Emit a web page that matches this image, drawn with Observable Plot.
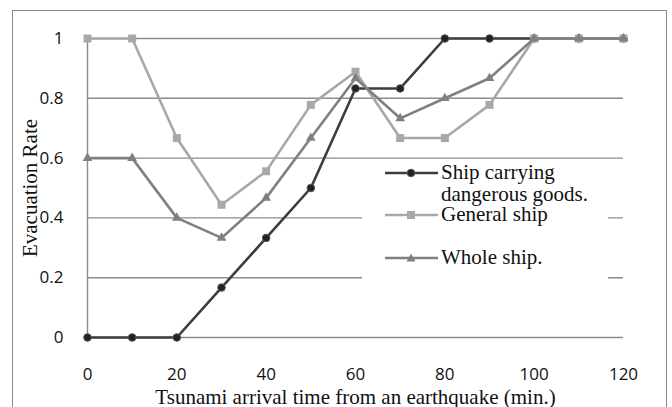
<!DOCTYPE html>
<html>
<head>
<meta charset="utf-8">
<script src="https://cdn.jsdelivr.net/npm/d3@7"></script>
<script src="https://cdn.jsdelivr.net/npm/@observablehq/plot@0.6"></script>
<style>
  html, body { margin: 0; padding: 0; background: #fff; }
  #wrap { position: relative; width: 672px; height: 407px; overflow: hidden; }
  #wrap svg { position: absolute; left: 0; top: 0; }
  .border { position: absolute; left: 12px; top: 10px; width: 653px; height: 420px; border: 1.5px solid #8a8a8a; pointer-events: none; }
  .legbox { position: absolute; left: 362px; top: 163px; width: 246px; height: 126px; background: #fff; }
  .legtxt { position: absolute; font-family: "Liberation Serif", "Times New Roman", serif; font-size: 21px; line-height: 19px; color: #111; white-space: nowrap; }
  .legsym { position: absolute; }
</style>
</head>
<body>
<div id="wrap"></div>
<script>
const times = [0, 10, 20, 30, 40, 50, 60, 70, 80, 90, 100, 110, 120];
const dangerous = [0, 0, 0, 0.167, 0.333, 0.5, 0.833, 0.833, 1, 1, 1, 1, 1];
const general = [1, 1, 0.667, 0.444, 0.556, 0.778, 0.889, 0.667, 0.667, 0.778, 1, 1, 1];
const whole = [0.6, 0.6, 0.4, 0.333, 0.467, 0.667, 0.867, 0.733, 0.8, 0.867, 1, 1, 1];
const yTicks = [0, 0.2, 0.4, 0.6, 0.8, 1];
const xTicks = [0, 20, 40, 60, 80, 100, 120];
const seriesNames = ["Ship carrying dangerous goods.", "General ship", "Whole ship."];
const xTitle = "Tsunami arrival time from an earthquake (min.)";
const yTitle = "Evacuation Rate";

const toRows = vals => times.map((t, i) => ({t, v: vals[i]}));
const dRows = toRows(dangerous), gRows = toRows(general), wRows = toRows(whole);

const cD = "#3d3d3d", cG = "#a8a8a8", cW = "#808080";
const serif = "'Liberation Serif', 'Times New Roman', serif";

const plot = Plot.plot({
  width: 672,
  height: 407,
  marginLeft: 87,
  marginRight: 49,
  marginTop: 38,
  marginBottom: 70,
  style: {fontFamily: "'Open Sans', sans-serif", fontSize: "17px", color: "#111", background: "transparent"},
  x: {domain: [0, 120]},
  y: {domain: [0, 1]},
  marks: [
    Plot.ruleY(yTicks, {stroke: "#8c8c8c", strokeWidth: 1.4}),
    Plot.ruleX([0], {stroke: "#8c8c8c", strokeWidth: 1.4}),
    Plot.axisY({ticks: yTicks, tickSize: 0, tickPadding: 24, tickFormat: d => String(d), label: null, fontSize: 17}),
    Plot.axisX({ticks: xTicks, tickSize: 0, tickPadding: 30, label: null, fontSize: 17}),
    Plot.line(dRows, {x: "t", y: "v", stroke: cD, strokeWidth: 2.6}),
    Plot.dot(dRows, {x: "t", y: "v", r: 3.8, fill: "#222", stroke: "#555", strokeWidth: 1, symbol: "circle"}),
    Plot.line(gRows, {x: "t", y: "v", stroke: cG, strokeWidth: 2.6}),
    Plot.dot(gRows, {x: "t", y: "v", r: 4.5, fill: cG, stroke: "none", symbol: "square"}),
    Plot.line(wRows, {x: "t", y: "v", stroke: cW, strokeWidth: 2.6}),
    Plot.dot(wRows, {x: "t", y: "v", r: 3.6, fill: cW, stroke: "none", symbol: "triangle"}),
    Plot.text([xTitle], {frameAnchor: "bottom", lineAnchor: "middle", textAnchor: "middle", dy: 60, fontFamily: serif, fontSize: 21, fill: "#111"}),
    Plot.text([yTitle], {frameAnchor: "left", lineAnchor: "middle", textAnchor: "middle", dx: -57, rotate: -90, fontFamily: serif, fontSize: 21, fill: "#111"})
  ]
});

const wrap = document.getElementById("wrap");
wrap.appendChild(plot);

// Legend overlay
const box = document.createElement("div");
box.className = "legbox";
wrap.appendChild(box);

function sym(kind, color, top) {
  const ns = "http://www.w3.org/2000/svg";
  const s = document.createElementNS(ns, "svg");
  s.setAttribute("width", 56); s.setAttribute("height", 14);
  s.setAttribute("class", "legsym");
  s.style.left = "384px"; s.style.top = (top - 7) + "px";
  const l = document.createElementNS(ns, "line");
  l.setAttribute("x1", 1); l.setAttribute("x2", 54); l.setAttribute("y1", 7); l.setAttribute("y2", 7);
  l.setAttribute("stroke", color); l.setAttribute("stroke-width", 2.6);
  s.appendChild(l);
  let m;
  if (kind === "circle") {
    m = document.createElementNS(ns, "circle");
    m.setAttribute("cx", 27); m.setAttribute("cy", 7); m.setAttribute("r", 3.8);
    m.setAttribute("fill", "#222"); m.setAttribute("stroke", "#555");
  } else if (kind === "square") {
    m = document.createElementNS(ns, "rect");
    m.setAttribute("x", 23); m.setAttribute("y", 3); m.setAttribute("width", 8); m.setAttribute("height", 8);
    m.setAttribute("fill", color);
  } else {
    m = document.createElementNS(ns, "path");
    m.setAttribute("d", "M27,2.5 L31.5,10.5 L22.5,10.5 Z");
    m.setAttribute("fill", color);
  }
  s.appendChild(m);
  wrap.appendChild(s);
}
function txt(t, centerY) {
  const d = document.createElement("div");
  d.className = "legtxt";
  d.textContent = t;
  d.style.left = "441px";
  d.style.top = (centerY - 10) + "px";
  wrap.appendChild(d);
}
sym("circle", cD, 173);
sym("square", cG, 215);
sym("triangle", cW, 258);
txt("Ship carrying", 173);
txt("dangerous goods.", 195);
txt(seriesNames[1], 215);
txt(seriesNames[2], 258);

const b = document.createElement("div");
b.className = "border";
wrap.appendChild(b);
</script>
</body>
</html>
